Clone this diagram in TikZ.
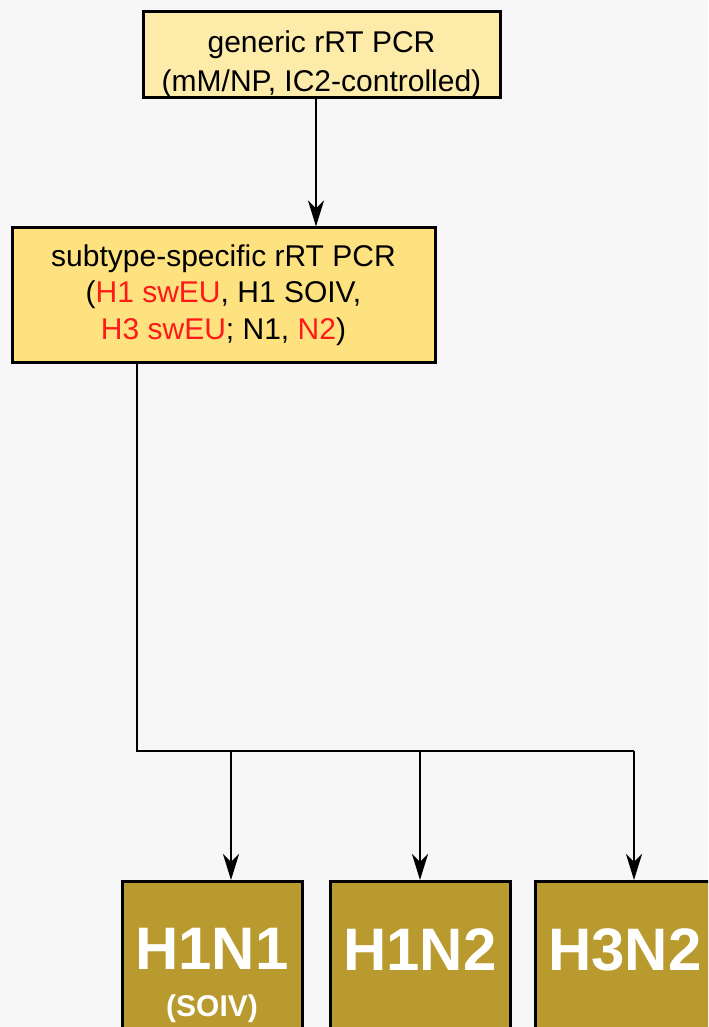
\documentclass[tikz,border=0pt]{standalone}
\usepackage{fontspec}
\setmainfont{Liberation Sans}
\usetikzlibrary{positioning,arrows.meta}
\definecolor{bggrey}{HTML}{F7F7F7}
\definecolor{paleyellow}{HTML}{FDEBAA}
\definecolor{deepyellow}{HTML}{FEE27F}
\definecolor{subgold}{HTML}{B99A2E}
\definecolor{markred}{HTML}{FF1A1A}
\tikzstyle{assay} = [draw=black, line width=1.5pt, align=center, inner sep=0pt, font=\fontsize{15pt}{18.3pt}\selectfont]
\tikzstyle{subtype} = [draw=black, line width=1.5pt, fill=subgold, text=white, align=center, inner sep=0pt, minimum width=90pt, minimum height=93.5pt, font=\bfseries\fontsize{30pt}{23.5pt}\selectfont]
\tikzstyle{wire} = [line width=1.3pt]
\tikzstyle{arrow} = [line width=1.3pt, -{Stealth[length=13pt, width=8pt, inset=4pt]}]

\begin{document}
\begin{tikzpicture}[x=0.5pt, y=-0.5pt]
\fill[bggrey] (0,0) rectangle (708,1027);
\useasboundingbox (0,0) rectangle (708,1027);
\clip (0,0) rectangle (708,1027);

\node[assay, fill=paleyellow, minimum width=178.5pt, minimum height=43pt] (generic) at (321.5,55) {\rule{0pt}{20pt}generic rRT PCR\\[1.2pt](mM/NP, IC2-controlled)};
\node[assay, fill=deepyellow, minimum width=211.5pt, minimum height=67pt] (specific) at (223.5,295) {subtype-specific rRT PCR\\(\textcolor{markred}{H1 swEU}, H1 SOIV,\\\textcolor{markred}{H3 swEU}; N1, \textcolor{markred}{N2})};

\node[subtype, anchor=north] (h1n1) at (212,880) {H1N1\\{\fontsize{15pt}{23.5pt}\selectfont (SOIV)}};
\node[subtype, text height=21.5pt, text depth=26pt, right=12.5pt of h1n1] (h1n2) {H1N2};
\node[subtype, text height=21.5pt, text depth=26pt, right=11pt of h1n2] (h3n2) {H3N2};

\coordinate (bus) at (634,751);

\draw[arrow] ([xshift=-2.75pt]generic.south) -- ([xshift=-2.75pt]generic.south |- specific.north);
\draw[wire] ([xshift=-43.25pt]specific.south) |- (bus);
\draw[arrow] ([xshift=9.5pt]h1n1.north |- bus) -- ([xshift=9.5pt]h1n1.north);
\draw[arrow] (h1n2.north |- bus) -- (h1n2.north);
\draw[arrow] (bus) -- (bus |- h3n2.north);

\end{tikzpicture}
\end{document}
